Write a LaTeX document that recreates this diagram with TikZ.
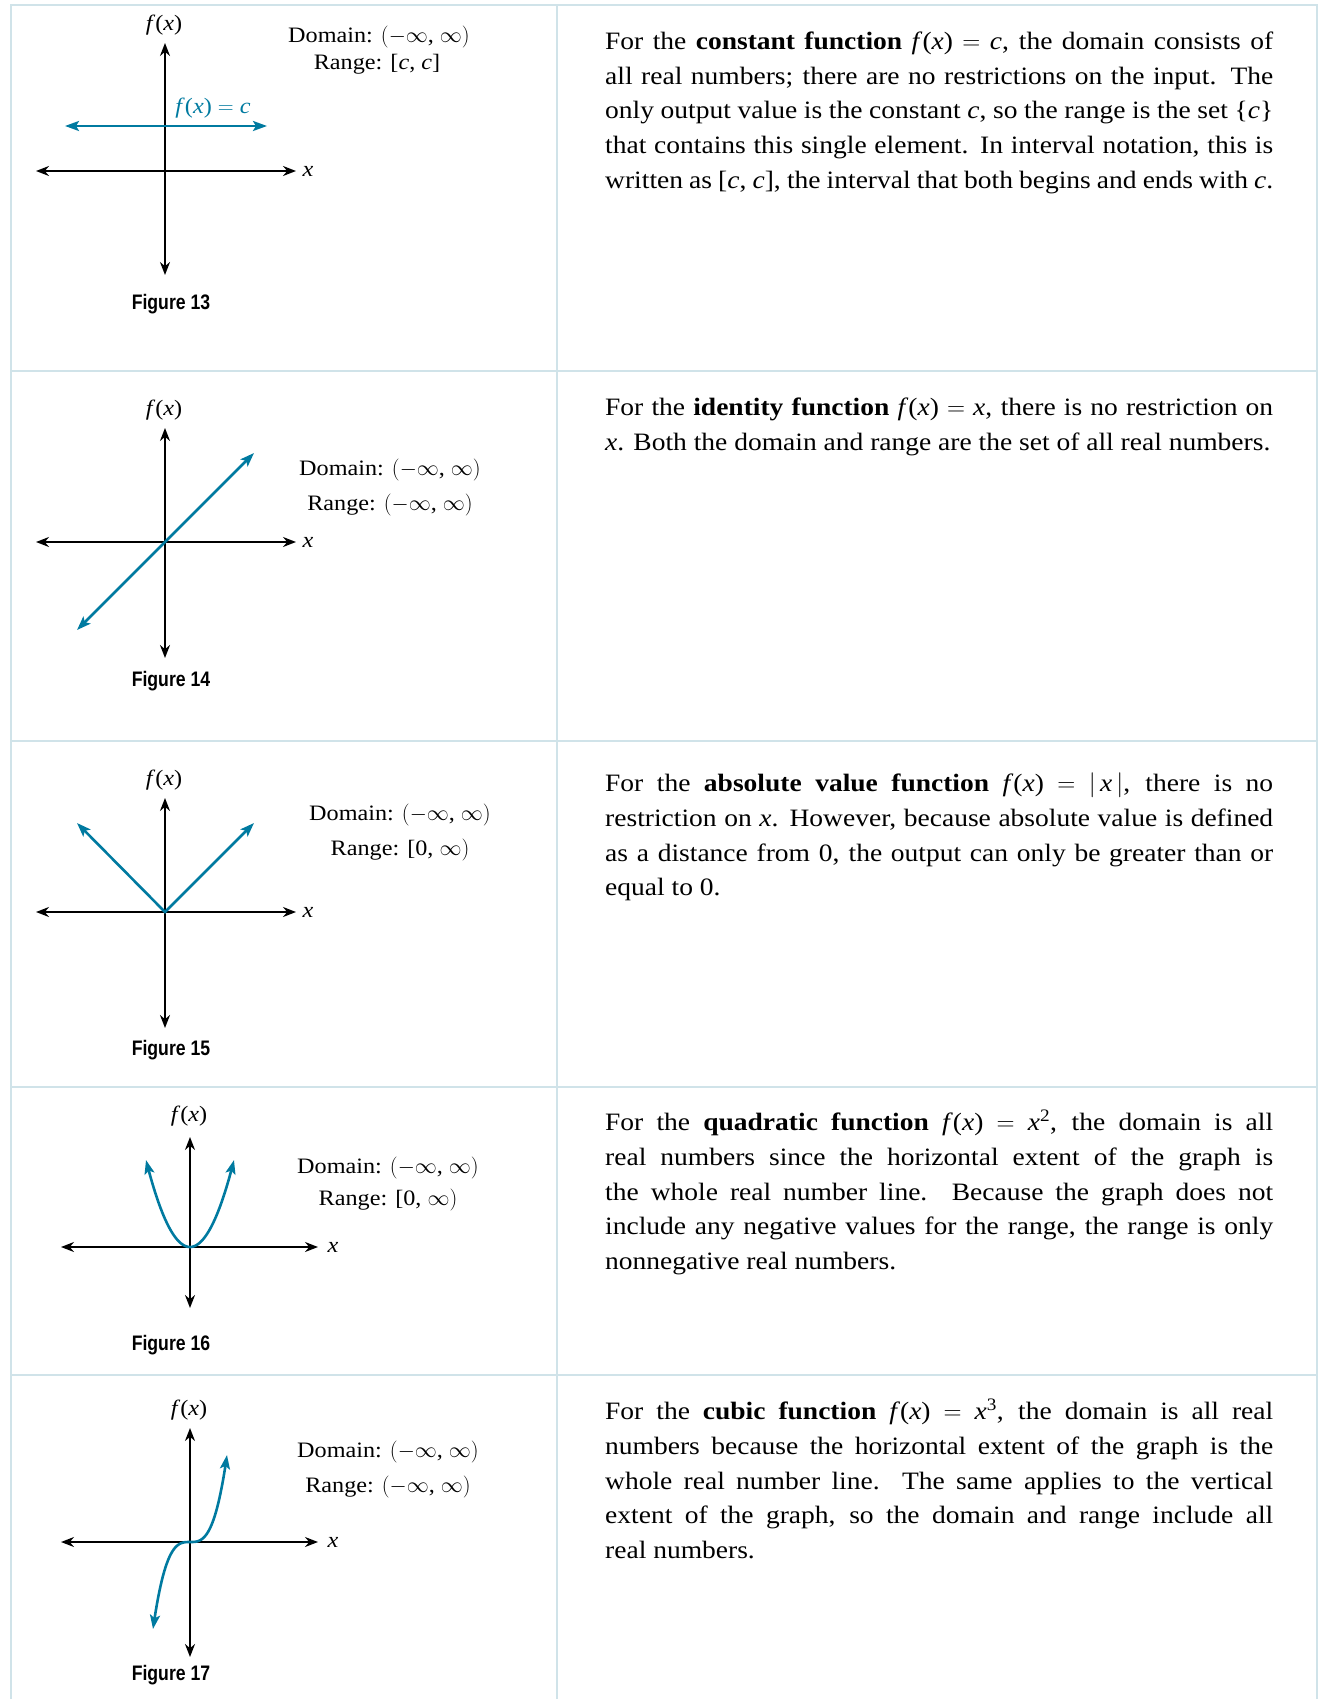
\RequirePackage{fix-cm}
\documentclass[tikz,border=0pt]{standalone}
\usepackage{fontspec}
\setmainfont[FakeStretch=1.1]{Liberation Serif}
\newfontfamily\figfont[FakeStretch=0.84]{Liberation Sans}
\usetikzlibrary{arrows.meta}
\definecolor{fnblue}{RGB}{0,122,160}
\definecolor{rulegray}{RGB}{208,227,233}
\newcommand{\fofx}{\textit{f}(\textit{x})}
\newcommand{\allreal}{$(-\infty$, $\infty)$}

\begin{document}
\begin{tikzpicture}[x=1pt, y=-1pt,
        tablerule/.style={rulegray, line width=1.5pt},
        axis/.style={line width=1.8pt, {Stealth[length=13pt,width=10pt]}-{Stealth[length=13pt,width=10pt]}},
        fncurve/.style={fnblue, line width=2.6pt, {Stealth[length=14pt,width=10pt,inset=3pt]}-{Stealth[length=14pt,width=10pt,inset=3pt]}},
        lbl/.style={inner sep=0pt, font=\fontsize{22}{26}\selectfont},
        figlbl/.style={inner sep=0pt, font=\figfont\bfseries\fontsize{21}{25}\selectfont},
        para/.style={anchor=north west, inner sep=0pt, text width=668pt, align=justify, font=\fontsize{25}{34.6}\selectfont}]
        \useasboundingbox (0,0) rectangle (1321,1699);

        % table
        \draw[tablerule] (11,1699) -- (11,5) -- (1317,5) -- (1317,1699);
        \draw[tablerule] (557,5) -- (557,1699);
        \draw[tablerule] (11,371) -- (1317,371);
        \draw[tablerule] (11,741) -- (1317,741);
        \draw[tablerule] (11,1087) -- (1317,1087);
        \draw[tablerule] (11,1375) -- (1317,1375);

        % constant function
        \draw[axis] (36,171) -- (296,171);
        \draw[axis] (165,275) -- (165,43);
        \draw[fncurve] (65,126) -- (267,126);
        \node[lbl] (fx13) at (164,25) {\fofx};
        \node[lbl] (x13) at (308,171) {\textit{x}};
        \node[lbl, fnblue] (c13) at (213,108) {\fofx{} $=$ \textit{c}};
        \node[lbl] (dom13) at (379,37) {Domain: \allreal};
        \node[lbl] (rng13) at (377,64) {Range: [\textit{c}, \textit{c}]};
        \node[figlbl] (fig13) at (171,304) {Figure 13};
        \node[para] (txt13) at (605,32) {For the \textbf{constant function} \fofx{} $=$ \textit{c}, the domain consists of\linebreak
            all real numbers; there are no restrictions on the input. The\linebreak
            only output value is the constant \textit{c}, so the range is the set \{\textit{c}\}\linebreak
            that contains this single element. In interval notation, this is\linebreak
            written as [\textit{c}, \textit{c}], the interval that both begins and ends with \textit{c}.};

        % identity function
        \draw[axis] (36,542) -- (296,542);
        \draw[axis] (165,658) -- (165,428);
        \draw[fncurve] (77,630) -- (254,453);
        \node[lbl] (fx14) at (164,410) {\fofx};
        \node[lbl] (x14) at (308,542) {\textit{x}};
        \node[lbl] (dom14) at (390,470) {Domain: \allreal};
        \node[lbl] (rng14) at (390,505) {Range: \allreal};
        \node[figlbl] (fig14) at (171,681) {Figure 14};
        \node[para] (txt14) at (605,398) {For the \textbf{identity function} \fofx{} $=$ \textit{x}, there is no restriction on\linebreak
            \textit{x}. Both the domain and range are the set of all real numbers.};

        % absolute value function
        \draw[axis] (36,912) -- (296,912);
        \draw[axis] (165,1028) -- (165,798);
        \draw[fncurve] (77,823) -- (165,912) -- (254,823);
        \node[lbl] (fx15) at (164,780) {\fofx};
        \node[lbl] (x15) at (308,912) {\textit{x}};
        \node[lbl] (dom15) at (400,815) {Domain: \allreal};
        \node[lbl] (rng15) at (400,850) {Range: [0, $\infty)$};
        \node[figlbl] (fig15) at (171,1050) {Figure 15};
        \node[para] (txt15) at (605,773) {For the \textbf{absolute value function} \fofx{} $=$ $|$\,\textit{x}\,$|$, there is no\linebreak
            restriction on \textit{x}. However, because absolute value is defined\linebreak
            as a distance from 0, the output can only be greater than or\linebreak
            equal to 0.};

        % quadratic function
        \draw[axis] (61,1247) -- (318,1247);
        \draw[axis] (190,1308) -- (190,1137);
        \draw[fncurve] plot[domain=-44:44, samples=60] ({190+\x}, {1247-87*(\x/44)^2});
        \node[lbl] (fx16) at (189,1116) {\fofx};
        \node[lbl] (x16) at (333,1247) {\textit{x}};
        \node[lbl] (dom16) at (388,1168) {Domain: \allreal};
        \node[lbl] (rng16) at (388,1200) {Range: [0, $\infty)$};
        \node[figlbl] (fig16) at (171,1345) {Figure 16};
        \node[para] (txt16) at (605,1110) {For the \textbf{quadratic function} \fofx{} $=$ \textit{x}\textsuperscript{2}, the domain is all\linebreak
            real numbers since the horizontal extent of the graph is\linebreak
            the whole real number line. Because the graph does not\linebreak
            include any negative values for the range, the range is only\linebreak
            nonnegative real numbers.};

        % cubic function
        \draw[axis] (61,1542) -- (318,1542);
        \draw[axis] (190,1657) -- (190,1428);
        \draw[fncurve] plot[domain=-37:37, samples=60] ({190+\x}, {1542-87*(\x/37)^3});
        \node[lbl] (fx17) at (189,1410) {\fofx};
        \node[lbl] (x17) at (333,1542) {\textit{x}};
        \node[lbl] (dom17) at (388,1452) {Domain: \allreal};
        \node[lbl] (rng17) at (388,1487) {Range: \allreal};
        \node[figlbl] (fig17) at (171,1675) {Figure 17};
        \node[para] (txt17) at (605,1399) {For the \textbf{cubic function} \fofx{} $=$ \textit{x}\textsuperscript{3}, the domain is all real\linebreak
            numbers because the horizontal extent of the graph is the\linebreak
            whole real number line. The same applies to the vertical\linebreak
            extent of the graph, so the domain and range include all\linebreak
            real numbers.};

    \end{tikzpicture}
\end{document}
